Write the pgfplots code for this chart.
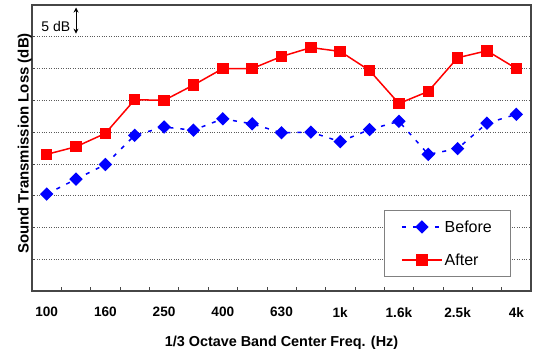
\documentclass[border=0pt]{standalone}
\usepackage{fontspec}
\setmainfont{Liberation Sans}
\usepackage{pgfplots}
\pgfplotsset{compat=1.18}
\usetikzlibrary{arrows.meta}
\definecolor{frame}{RGB}{70,70,70}
\definecolor{gridc}{RGB}{90,90,90}
\begin{document}
\begin{tikzpicture}
\begin{axis}[
  scale only axis,
  width=499pt, height=286pt,
  at={(0pt,0pt)}, anchor=south west,
  xmin=-0.5, xmax=16.5,
  ymin=0, ymax=45,
  axis line style={frame, line width=1.4pt},
  xtick={0,2,...,16},
  xticklabels={100,160,250,400,630,1k,1.6k,2.5k,4k},
  minor xtick={0.5,1.5,...,15.5},
  major x tick style={draw=none},
  minor tick length=4pt,
  every minor tick/.style={frame, line width=0.6pt},
  tick align=inside,
  xtick pos=bottom,
  ytick={5,10,...,40},
  yticklabels={},
  ytick pos=left,
  major tick length=3pt,
  every major tick/.style={frame, line width=0.6pt},
  ymajorgrids,
  grid style={gridc, dotted, line width=0.6pt},
  xticklabel style={font=\fontsize{13.6}{15}\selectfont\bfseries, anchor=north, inner sep=0pt, yshift=-16pt},
  xlabel={1/3 Octave Band Center Freq. (Hz)},
  xlabel style={font=\fontsize{14.4}{16}\selectfont\bfseries, at={(axis description cs:0.5,0)}, anchor=north, inner sep=0pt, yshift=-45pt},
  ylabel={Sound Transmission Loss (dB)},
  ylabel style={font=\fontsize{15}{17}\selectfont\bfseries, at={(axis description cs:0,0.526)}, rotate=0, anchor=south, inner sep=0pt, xshift=-3pt},
  legend style={at={(axis description cs:0.705,0.049)}, anchor=south west, draw=gray, line width=0.8pt,
    font=\fontsize{16}{18}\selectfont, inner xsep=17pt, inner ysep=8pt, row sep=16pt,
    cells={anchor=west}},
  legend image code/.code={\draw[mark repeat=2,mark phase=2,#1] plot coordinates {(0pt,0pt) (20pt,0pt) (40pt,0pt)};},
]
\addplot[blue, line width=1.5pt, dash pattern=on 4pt off 7pt, mark=square*, mark size=4pt, mark options={solid, rotate=45, fill=blue}]
coordinates {(0,15.25) (1,17.6) (2,19.9) (3,24.5) (4,25.8) (5,25.3) (6,27.1) (7,26.3) (8,24.9) (9,25.0) (10,23.5) (11,25.4) (12,26.7) (13,21.5) (14,22.4) (15,26.4) (16,27.8)};
\addlegendentry{Before}
\addplot[red, line width=1.5pt, mark=square*, mark size=5pt, mark options={solid, fill=red}]
coordinates {(0,21.5) (1,22.7) (2,24.8) (3,30.1) (4,30.0) (5,32.4) (6,35.0) (7,35.0) (8,36.9) (9,38.3) (10,37.7) (11,34.7) (12,29.5) (13,31.4) (14,36.7) (15,37.8) (16,35.0)};
\addlegendentry{After}
\node[font=\fontsize{14}{15}\selectfont, anchor=center] at (axis cs:0.31,41.65) {5 dB};
\draw[black, line width=1pt, {Stealth[length=5pt,width=5pt]}-{Stealth[length=5pt,width=5pt]}] (axis cs:1.0,44.6) -- (axis cs:1.0,40.5);
\end{axis}
\pgfresetboundingbox
\path[use as bounding box] (-32pt,-66pt) rectangle (510pt,291pt);
\end{tikzpicture}
\end{document}
